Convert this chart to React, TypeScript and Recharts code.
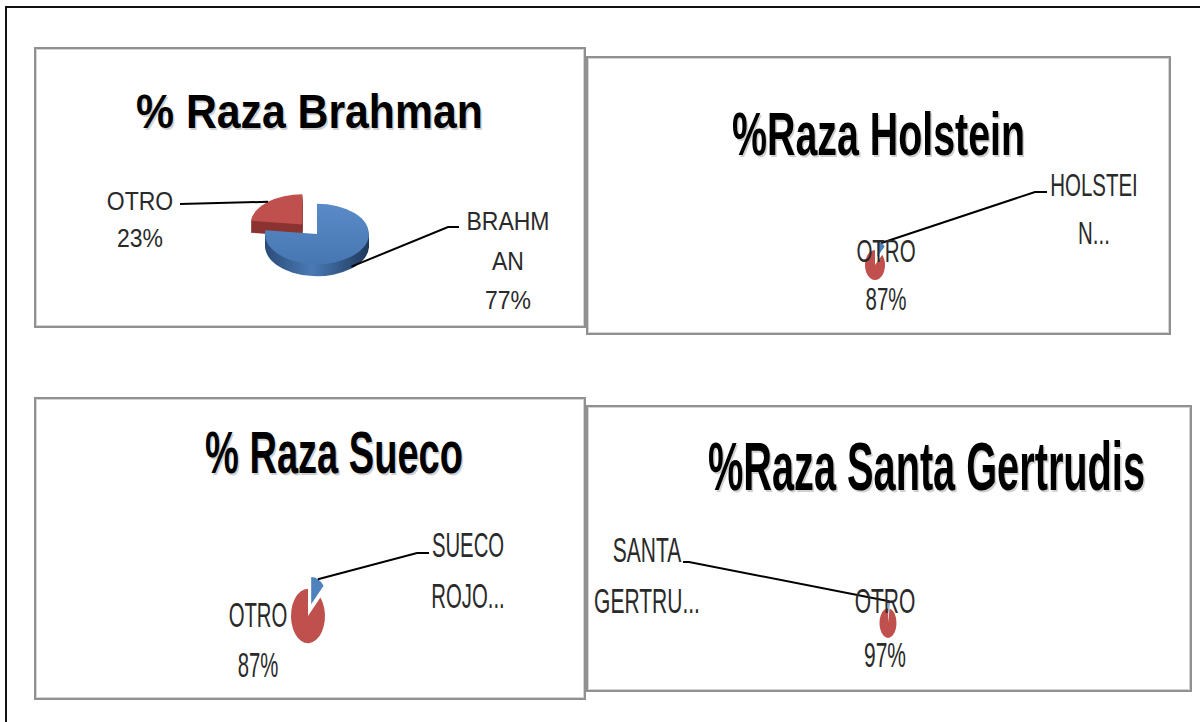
import React from 'react'
import { PieChart, Pie, Cell } from 'recharts'

const BLUE = '#4F81BD'
const RED = '#C0504D'
const RED_SIDE = '#8A3330'
const FONT = "'Liberation Sans', Arial, sans-serif"

// chart data
const brahmanNames = ['BRAHMAN', 'OTRO']
const brahmanValues = [77, 23]
const brahmanLabels = [['BRAHM', 'AN', '77%'], ['OTRO', '23%']]

const holsteinNames = ['HOLSTEIN', 'OTRO']
const holsteinValues = [13, 87]
const holsteinLabels = [['HOLSTEI', 'N...'], ['OTRO', '87%']]

const suecoNames = ['SUECO ROJO', 'OTRO']
const suecoValues = [13, 87]
const suecoLabels = [['SUECO', 'ROJO...'], ['OTRO', '87%']]

const santaNames = ['SANTA GERTRUDIS', 'OTRO']
const santaValues = [3, 97]
const santaLabels = [['SANTA', 'GERTRU...'], ['OTRO', '97%']]

const titles = ['% Raza Brahman', '%Raza Holstein', '% Raza Sueco', '%Raza Santa Gertrudis']

type LabelPos = { x: number; ys: number[]; line?: number[][]; lift?: number }
type Panel = {
  id: string
  title: string
  names: string[]
  values: number[]
  labels: string[][]
  box: number[]
  cx: number
  cy: number
  r: number
  sy: number
  depth?: number
  explodeIndex: number
  explode: number
  titleX: number
  titleBase: number
  titleLen: number
  titleCap: number
  fontSize: number
  sx: number
  cap: number
  pos: LabelPos[]
}

// layout (page coordinates)
const panels: Panel[] = [
  {
    id: 'brahman', title: titles[0], names: brahmanNames, values: brahmanValues, labels: brahmanLabels,
    box: [34, 47, 552, 281], cx: 317, cy: 234, r: 52, sy: 0.58, depth: 12, explodeIndex: 1, explode: 22,
    titleX: 136, titleBase: 128, titleLen: 347, titleCap: 35,
    fontSize: 25, sx: 0.92, cap: 18,
    pos: [
      { x: 508, ys: [221, 261, 300], line: [[448, 227], [459, 227]], lift: 10 },
      { x: 140, ys: [201, 238], line: [[180, 204]] },
    ],
  },
  {
    id: 'holstein', title: titles[1], names: holsteinNames, values: holsteinValues, labels: holsteinLabels,
    box: [586, 56, 585, 279], cx: 875, cy: 265, r: 10, sy: 1.5, explodeIndex: 0, explode: 6,
    titleX: 732, titleBase: 155, titleLen: 293, titleCap: 44,
    fontSize: 32, sx: 0.64, cap: 23,
    pos: [
      { x: 1094, ys: [184, 232], line: [[1035, 192], [1047, 192]] },
      { x: 886, ys: [250, 298] },
    ],
  },
  {
    id: 'sueco', title: titles[2], names: suecoNames, values: suecoValues, labels: suecoLabels,
    box: [34, 397, 552, 303], cx: 308, cy: 616, r: 17, sy: 1.6, explodeIndex: 0, explode: 8,
    titleX: 205, titleBase: 473, titleLen: 258, titleCap: 43,
    fontSize: 35, sx: 0.58, cap: 25,
    pos: [
      { x: 468, ys: [544, 595], line: [[417, 553], [429, 553]] },
      { x: 258, ys: [614, 664] },
    ],
  },
  {
    id: 'santa', title: titles[3], names: santaNames, values: santaValues, labels: santaLabels,
    box: [586, 405, 606, 287], cx: 888, cy: 623, r: 8.5, sy: 1.75, explodeIndex: 0, explode: 4,
    titleX: 708, titleBase: 490, titleLen: 437, titleCap: 49,
    fontSize: 35, sx: 0.6, cap: 25,
    pos: [
      { x: 647, ys: [549, 600], line: [[689, 562], [683, 562]] },
      { x: 885, ys: [600, 654] },
    ],
  },
]

// natural width of a string, so the titles can be squeezed with a plain scale
const measureCtx = typeof document !== 'undefined' ? document.createElement('canvas').getContext('2d') : null
function textWidth(t: string, size: number, weight: string) {
  if (!measureCtx) return t.length * size * 0.55
  measureCtx.font = `${weight} ${size}px ${FONT}`
  return measureCtx.measureText(t).width
}

function explodeShift(p: Panel) {
  const total = p.values.reduce((a, b) => a + b, 0)
  const before = p.values.slice(0, p.explodeIndex).reduce((a, b) => a + b, 0)
  const mid = ((90 - (360 * (before + p.values[p.explodeIndex] / 2)) / total) * Math.PI) / 180
  return [p.explode * Math.cos(mid), -p.explode * Math.sin(mid)]
}

// squash the circles into ellipses and pull the exploded slice out
const css = panels
  .map((p) => {
    const lcy = p.cy - p.box[1]
    const base = `translate(0px, ${lcy}px) scale(1, ${p.sy}) translate(0px, ${-lcy}px)`
    const [ex, ey] = explodeShift(p)
    const fills = p.explodeIndex === 0 ? [BLUE] : [RED, RED_SIDE]
    const sel = fills.map((f) => `.panel-${p.id} path.recharts-sector[fill="${f}"]`).join(', ')
    return `.panel-${p.id} path.recharts-sector { transform: ${base}; }\n${sel} { transform: ${base} translate(${ex}px, ${ey}px); }`
  })
  .join('\n')

function makeLabel(p: Panel) {
  const [bx, by] = p.box
  const [ex, ey] = explodeShift(p)
  return (props: any) => {
    const { index, midAngle } = props
    const pos = p.pos[index]
    const a = (midAngle * Math.PI) / 180
    let ax = p.cx + p.r * Math.cos(a)
    let ay = p.cy - p.r * p.sy * Math.sin(a)
    if (index === p.explodeIndex) {
      ax += ex
      ay += ey * p.sy
    }
    ay += pos.lift ?? 0
    const pts = pos.line ? [[ax, ay], ...pos.line].map(([x, y]) => `${x - bx},${y - by}`).join(' ') : null
    return (
      <g key={`lbl-${index}`}>
        {pts && <polyline points={pts} fill="none" stroke="#000" strokeWidth={2} />}
        {p.labels[index].map((t, j) => (
          <text
            key={j}
            transform={`translate(${pos.x - bx},${pos.ys[j] - by + p.cap / 2}) scale(${p.sx},1)`}
            textAnchor="middle"
            fontSize={p.fontSize}
            fontFamily={FONT}
            fill="#2a2a2a"
          >
            {t}
          </text>
        ))}
      </g>
    )
  }
}

function Title({ p }: { p: Panel }) {
  const [bx, by] = p.box
  const size = p.titleCap / 0.716
  const k = p.titleLen / textWidth(p.title, size, 'bold')
  const common = {
    fontSize: size,
    fontWeight: 'bold' as const,
    fontFamily: FONT,
  }
  return (
    <g>
      <text {...common} transform={`translate(${p.titleX - bx + 1.5},${p.titleBase - by + 1.5}) scale(${k},1)`} fill="#000" opacity={0.18}>
        {p.title}
      </text>
      <text {...common} transform={`translate(${p.titleX - bx},${p.titleBase - by}) scale(${k},1)`} fill="#000">
        {p.title}
      </text>
    </g>
  )
}

function PiePanel({ p }: { p: Panel }) {
  const [bx, by, w, h] = p.box
  const data = p.names.map((name, i) => ({ name, value: p.values[i] }))
  const layers = p.depth ? [12, 10, 8, 6, 4, 2] : []
  const topColors = p.depth ? ['url(#bTop)', RED] : [BLUE, RED]
  const sideColors = ['url(#bSide)', RED_SIDE]
  return (
    <div
      className={`panel-${p.id}`}
      style={{
        position: 'absolute',
        left: bx,
        top: by,
        width: w,
        height: h,
        boxShadow: 'inset 0 0 0 2px #909090, inset 0 0 0 3px #d4d4d4',
      }}
    >
      <PieChart width={w} height={h} margin={{ top: 0, right: 0, bottom: 0, left: 0 }}>
        {layers.map((k) => (
          <Pie
            key={k}
            data={data}
            dataKey="value"
            nameKey="name"
            cx={p.cx - bx}
            cy={p.cy - by + k / p.sy}
            outerRadius={p.r}
            startAngle={90}
            endAngle={-270}
            stroke="none"
            label={false}
            labelLine={false}
            isAnimationActive={false}
          >
            {data.map((d, i) => (
              <Cell key={d.name} fill={sideColors[i]} />
            ))}
          </Pie>
        ))}
        <Pie
          data={data}
          dataKey="value"
          nameKey="name"
          cx={p.cx - bx}
          cy={p.cy - by}
          outerRadius={p.r}
          startAngle={90}
          endAngle={-270}
          stroke="none"
          label={makeLabel(p)}
          labelLine={false}
          isAnimationActive={false}
        >
          {data.map((d, i) => (
            <Cell key={d.name} fill={topColors[i]} />
          ))}
        </Pie>
      </PieChart>
      <svg width={w} height={h} style={{ position: 'absolute', left: 0, top: 0, pointerEvents: 'none' }}>
        {p.depth ? (
          <defs>
            <linearGradient id="bTop" x1="0" y1="0" x2="0" y2="1">
              <stop offset="0" stopColor="#5A8BC8" />
              <stop offset="1" stopColor="#4677B2" />
            </linearGradient>
            <linearGradient id="bSide" x1="0" y1="0" x2="1" y2="0">
              <stop offset="0" stopColor="#2A4B78" />
              <stop offset="0.45" stopColor="#4A7AB5" />
              <stop offset="1" stopColor="#1E385C" />
            </linearGradient>
          </defs>
        ) : null}
        <Title p={p} />
      </svg>
    </div>
  )
}

export default function App() {
  return (
    <div style={{ position: 'absolute', left: 0, top: 0, width: 1200, height: 722, background: '#fff', overflow: 'hidden' }}>
      <style>{css}</style>
      <div style={{ position: 'absolute', left: 5, top: 6, width: 1195, height: 2, background: '#111' }} />
      <div style={{ position: 'absolute', left: 5, top: 6, width: 2, height: 716, background: '#111' }} />
      {panels.map((p) => (
        <PiePanel key={p.id} p={p} />
      ))}
    </div>
  )
}
